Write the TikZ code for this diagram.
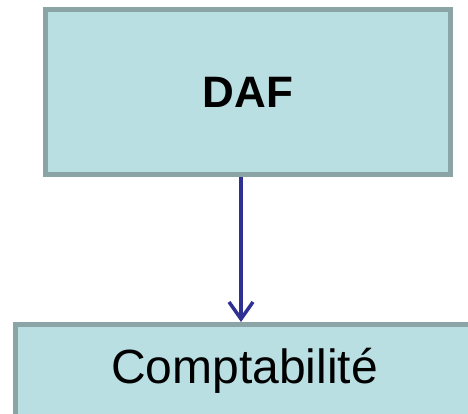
\documentclass[tikz,border=0pt]{standalone}
\usepackage{fontspec}
\setmainfont{Liberation Sans}
\usetikzlibrary{arrows.meta}
\definecolor{boxfill}{HTML}{B9DFE3}
\definecolor{boxline}{HTML}{8BA5A6}
\definecolor{linkblue}{RGB}{46,49,146}
\tikzset{
	orgbox/.style={draw=boxline,fill=boxfill,line width=5pt,inner sep=0pt},
	link/.style={draw=linkblue,line width=3.5pt,-{Straight Barb[length=17pt,width=24pt]}}
}
\begin{document}
\begin{tikzpicture}[x=1pt,y=-1pt]
				\clip (0,0) rectangle (468,413);
				\node[orgbox,minimum width=405pt,minimum height=165pt,font=\fontsize{44}{52}\selectfont\bfseries] (daf) at (248,92) {DAF};
				\node[orgbox,minimum width=470pt,minimum height=110pt] (comptabox) at (250.5,379.5) {};
				\node[anchor=base,inner sep=0pt,font=\fontsize{48}{57}\selectfont] (compta) at (244.5,383) {Comptabilité};
				\draw[link] ([xshift=-7pt]daf.south) -- ([xshift=-7pt]daf.south |- comptabox.north);
			\end{tikzpicture}
\end{document}
